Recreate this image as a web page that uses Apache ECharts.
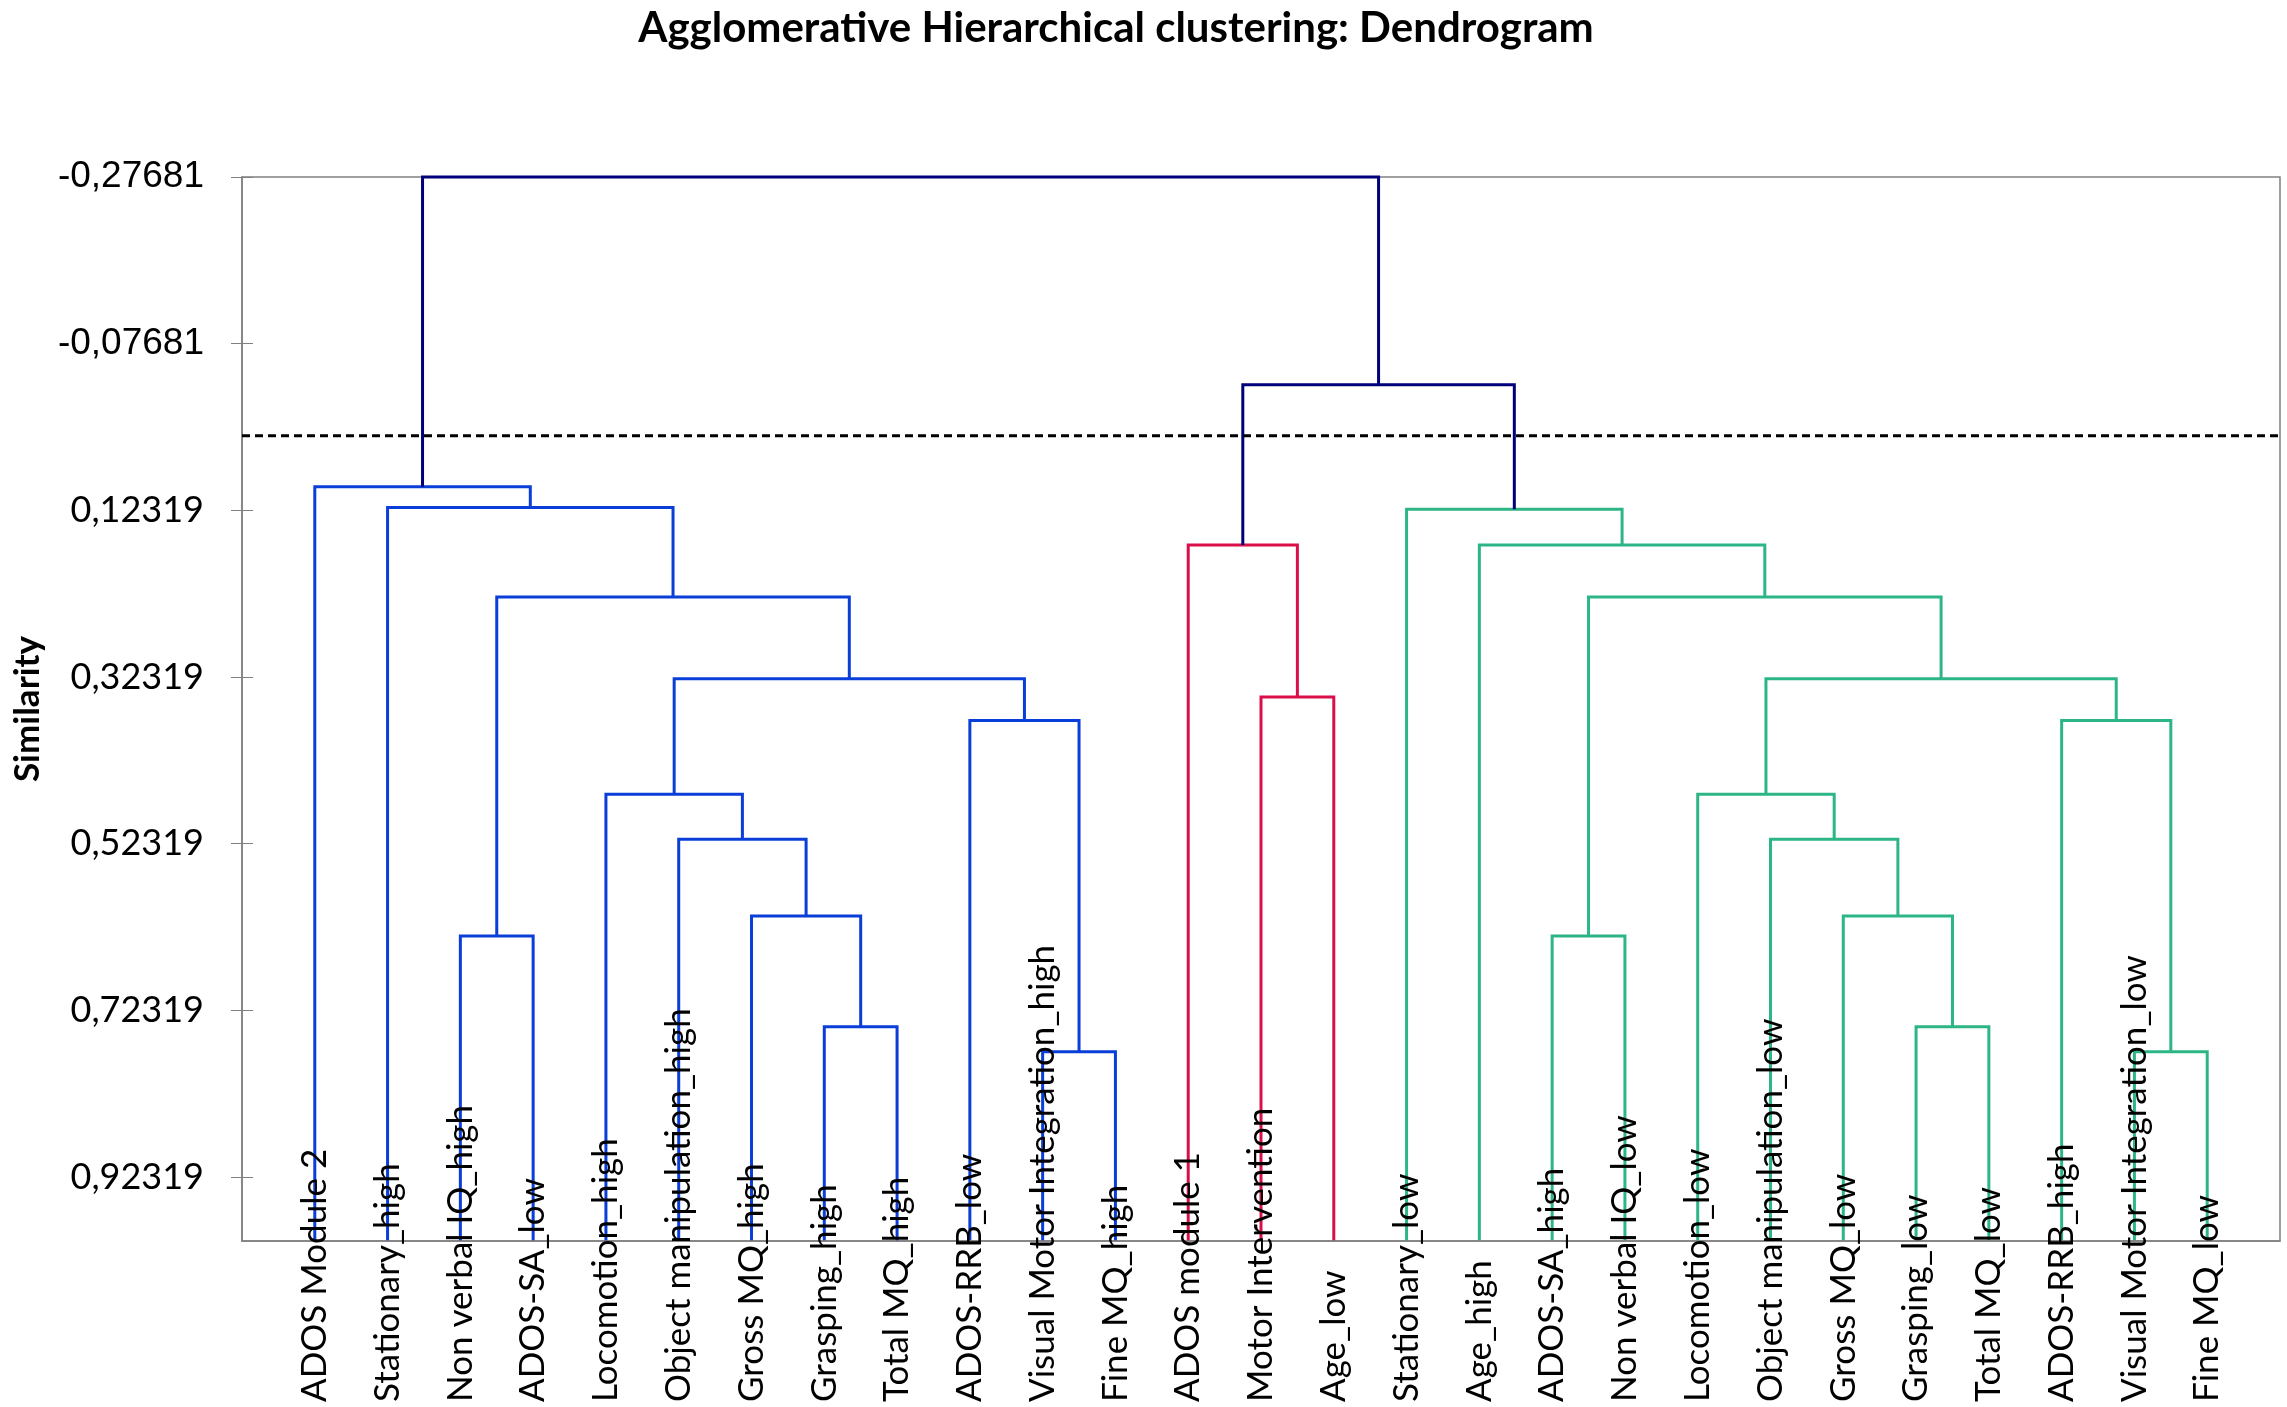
<!DOCTYPE html>
<html>
<head>
<meta charset="utf-8">
<title>Agglomerative Hierarchical clustering: Dendrogram</title>
<script src="https://cdn.jsdelivr.net/npm/echarts@6/dist/echarts.min.js"></script>
<style>
  html, body { margin: 0; padding: 0; background: #fff; }
  #chart { width: 2287px; height: 1407px; }
</style>
</head>
<body>
<div id="chart"></div>
<script>
// leaves, left to right (x = index + 1)
const leafNames = [
  'ADOS Module 2', 'Stationary_high', 'Non verbal IQ_high', 'ADOS-SA_low',
  'Locomotion_high', 'Object manipulation_high', 'Gross MQ_high', 'Grasping_high',
  'Total MQ_high', 'ADOS-RRB_low', 'Visual Motor Integration_high', 'Fine MQ_high',
  'ADOS module 1', 'Motor Intervention', 'Age_low',
  'Stationary_low', 'Age_high', 'ADOS-SA_high', 'Non verbal IQ_low',
  'Locomotion_low', 'Object manipulation_low', 'Gross MQ_low', 'Grasping_low',
  'Total MQ_low', 'ADOS-RRB_high', 'Visual Motor Integration_low', 'Fine MQ_low'
]

// linkage rows: [node a, node b, similarity]; nodes 0..26 are leaves, 27.. are the rows below
const linkage = [
  [7, 8, 0.743], [10, 11, 0.773], [6, 27, 0.610], [2, 3, 0.634], [5, 29, 0.518],
  [4, 31, 0.464], [9, 28, 0.3755], [32, 33, 0.3252], [30, 34, 0.2273], [1, 35, 0.1197],
  [0, 36, 0.0948],
  [13, 14, 0.3472], [12, 38, 0.1648],
  [22, 23, 0.743], [25, 26, 0.773], [21, 40, 0.610], [17, 18, 0.634], [20, 42, 0.518],
  [19, 44, 0.464], [24, 41, 0.3755], [45, 46, 0.3252], [43, 47, 0.2273], [16, 48, 0.1648],
  [15, 49, 0.122],
  [39, 50, -0.0275], [37, 51, -0.27681]
]
const linkCluster = [
  'c1', 'c1', 'c1', 'c1', 'c1', 'c1', 'c1', 'c1', 'c1', 'c1', 'c1',
  'c2', 'c2',
  'c3', 'c3', 'c3', 'c3', 'c3', 'c3', 'c3', 'c3', 'c3', 'c3', 'c3',
  'top', 'top'
]

const tickValues = [-0.27681, -0.07681, 0.12319, 0.32319, 0.52319, 0.72319, 0.92319]
const simMin = -0.27681
const simMax = 1
const cutLevel = 0.0337

const clusterColors = { c1: '#0A3ED8', c2: '#DA0E48', c3: '#2DB685', top: '#00007A' }

// dendrogram layout: leaf at its slot, merge at the middle of its two children
const nodeX = leafNames.map((_, i) => i + 1)
const nodeH = leafNames.map(() => simMax)
const segs = { c1: [], c2: [], c3: [], top: [] }
linkage.forEach(([a, b, h], i) => {
  nodeX.push((nodeX[a] + nodeX[b]) / 2)
  nodeH.push(h)
  segs[linkCluster[i]].push({
    coords: [[nodeX[a], nodeH[a]], [nodeX[a], h], [nodeX[b], h], [nodeX[b], nodeH[b]]]
  })
})

const fmt = (v) => {
  const s = v.toFixed(5).replace('.', ',')
  return v < 0 ? '{a|' + s + '}' : '{c|' + s + '}'
}

const chart = echarts.init(document.getElementById('chart'))
chart.setOption({
  animation: false,
  backgroundColor: '#fff',
  title: {
    text: 'Agglomerative Hierarchical clustering: Dendrogram',
    left: 1111, top: 2, textAlign: 'center',
    textStyle: { fontFamily: 'Lato', fontWeight: 'bold', fontSize: 42, color: '#000' }
  },
  grid: {
    left: 242, right: 7, top: 177, bottom: 166,
    show: true, borderColor: '#808080', borderWidth: 1.5,
    containLabel: false, outerBoundsMode: 'none'
  },
  xAxis: {
    type: 'value', min: 0, max: 28, interval: 1, z: 10,
    axisLine: { show: true, onZero: false, lineStyle: { color: '#808080', width: 1.5 } },
    axisTick: { show: false },
    splitLine: { show: false },
    axisLabel: {
      rotate: 90, align: 'left', verticalAlign: 'middle', margin: 161,
      fontFamily: 'Lato', fontSize: 35, color: '#000',
      formatter: (v) => leafNames[v - 1] || ''
    }
  },
  yAxis: [{
    type: 'value', inverse: true, min: simMin, max: simMax, position: 'left',
    name: 'Similarity', nameLocation: 'middle', nameGap: 197,
    nameTextStyle: { fontFamily: 'Lato', fontWeight: 'bold', fontSize: 35, color: '#000' },
    axisLine: { show: true, lineStyle: { color: '#808080', width: 1.5 } },
    axisTick: { show: true, length: 11, customValues: tickValues, lineStyle: { color: '#808080' } },
    splitLine: { show: false },
    axisLabel: {
      customValues: tickValues, margin: 38, formatter: fmt, color: '#000',
      rich: {
        a: { fontFamily: 'Liberation Sans', fontSize: 37, color: '#000' },
        c: { fontFamily: 'Lato', fontSize: 36, color: '#000' }
      }
    }
  }, {
    type: 'value', inverse: true, min: simMin, max: simMax, position: 'left',
    axisLine: { show: false },
    axisTick: { show: true, inside: true, length: 11, customValues: tickValues, lineStyle: { color: '#808080' } },
    axisLabel: { show: false },
    splitLine: { show: false }
  }],
  series: [
    ...['c1', 'c2', 'c3', 'top'].map((k) => ({
      type: 'lines',
      name: k,
      coordinateSystem: 'cartesian2d',
      polyline: true,
      clip: false,
      silent: true,
      lineStyle: { color: clusterColors[k], width: 3, opacity: 1 },
      data: segs[k]
    })),
    {
      type: 'line',
      name: 'cut',
      data: [[0, cutLevel], [28, cutLevel]],
      symbol: 'none',
      silent: true,
      z: 5,
      lineStyle: { color: '#000', width: 3, type: [8, 5] }
    }
  ]
})
</script>
</body>
</html>
